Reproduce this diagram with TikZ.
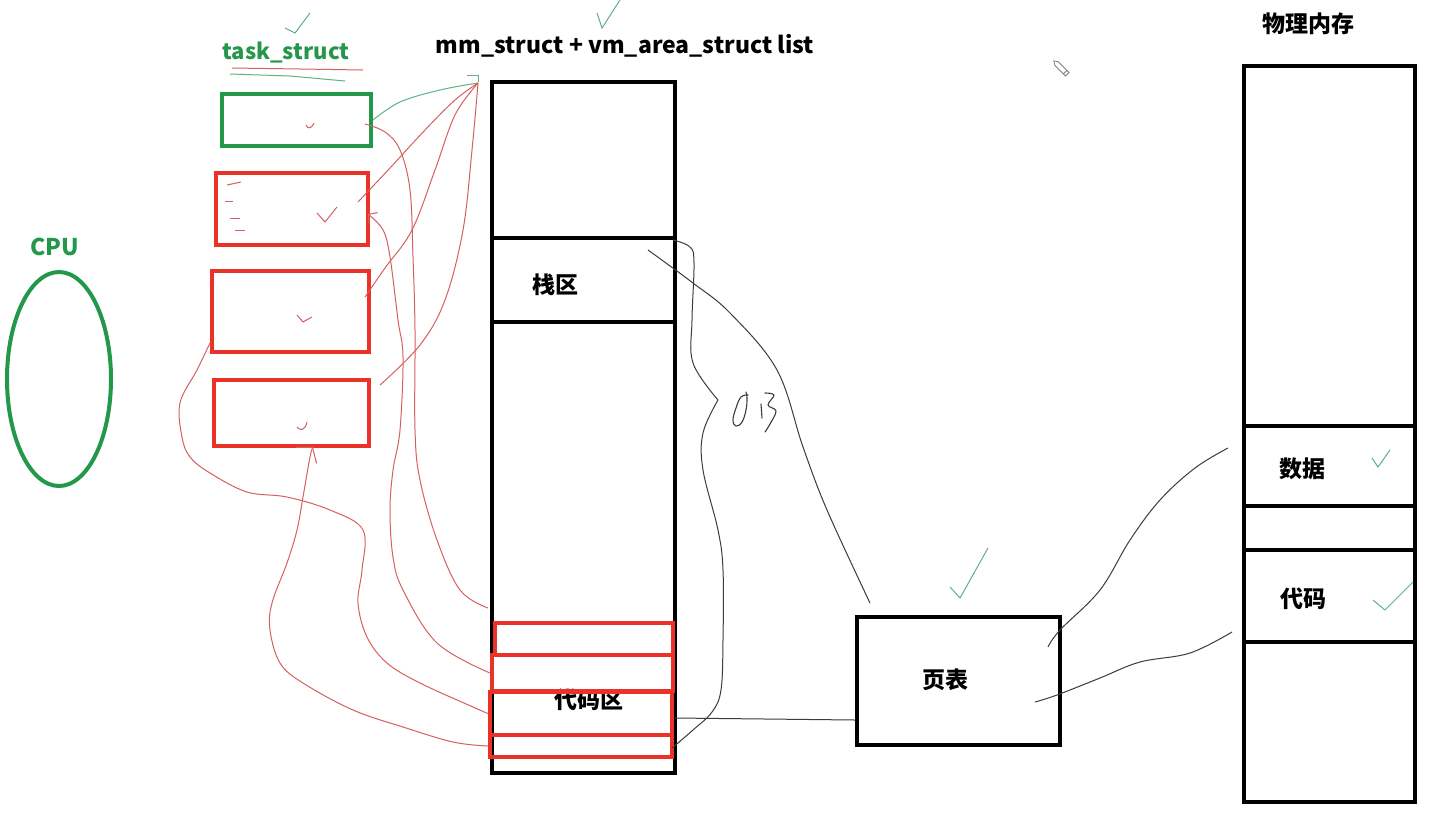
\documentclass[tikz,border=0pt]{standalone}
\usepackage{fontspec}
\setmainfont{Noto Sans CJK SC}
\usetikzlibrary{shapes.geometric,arrows.meta}
\definecolor{hgreen}{RGB}{36,152,74}
\definecolor{hred}{RGB}{234,50,40}
\definecolor{tred}{RGB}{214,96,96}
\definecolor{tgreen}{RGB}{96,176,136}
\definecolor{tblack}{RGB}{60,60,60}
\begin{document}
\begin{tikzpicture}[x=1pt,y=-1pt,
  bbox/.style={draw=black, line width=4pt, inner sep=0pt, anchor=north west},
  rbox/.style={draw=hred, line width=4pt, inner sep=0pt, anchor=north west},
  gbox/.style={draw=hgreen, line width=4pt, inner sep=0pt, anchor=north west},
  lat/.style={font=\fontsize{23}{25}\selectfont\bfseries, inner sep=0pt},
  cjk/.style={font=\fontsize{23}{25}\selectfont\bfseries, inner sep=0pt},
  rline/.style={draw=tred, line width=1pt},
  gline/.style={draw=tgreen, line width=1pt},
  kline/.style={draw=tblack, line width=1pt},
  hand/.style={draw=tblack, line width=1.1pt, line cap=round, line join=round},
  barb/.style={-{Straight Barb[length=10pt,width=26pt]}}
]
\useasboundingbox (0,0) rectangle (1430,823);
\fill[white] (0,0) rectangle (1430,823);

% ---- CPU
\node[lat, text=hgreen] (cpul) at (55,247) {CPU};
\node[draw=hgreen, line width=4pt, ellipse, minimum width=104pt, minimum height=214pt, inner sep=0pt] (cpu) at (59,379) {};

% ---- task_struct list
\node[lat, font=\fontsize{22}{24}\selectfont\bfseries, text=hgreen] (tsl) at (286,52) {task\_struct};
\node[gbox, minimum width=149pt, minimum height=52pt] (t0) at (220,92) {};
\node[rbox, minimum width=152pt, minimum height=72pt] (t1) at (214,171) {};
\node[rbox, minimum width=157pt, minimum height=81pt] (t2) at (210,269) {};
\node[rbox, minimum width=155pt, minimum height=66pt] (t3) at (212,378) {};

% ---- mm_struct column
\node[lat] (mml) at (625,46) {mm\_struct + vm\_area\_struct list};
\node[bbox, minimum width=183pt, minimum height=691pt] (mm) at (490,80) {};
\node[bbox, minimum width=183pt, minimum height=84pt] (stack) at (490,236) {};
\node[cjk] (stackl) at (555,285) {栈区};
\node[cjk] (codel) at (589,700) {代码区};
\node[rbox, minimum width=178pt, minimum height=32pt] (r1) at (493,621) {};
\node[rbox, minimum width=181pt, minimum height=36pt] (r2) at (490,653) {};
\node[rbox, minimum width=182pt, minimum height=43pt] (r3) at (488,690) {};
\node[rbox, minimum width=182pt, minimum height=22pt] (r4) at (488,733) {};

% ---- page table
\node[bbox, minimum width=203pt, minimum height=128pt] (pt) at (855,615) {};
\node[cjk] (ptl) at (945,680) {页表};

% ---- physical memory
\node[cjk] (pml) at (1308,24) {物理内存};
\node[bbox, minimum width=171pt, minimum height=736pt] (pm) at (1242,64) {};
\node[bbox, minimum width=171pt, minimum height=80pt] (data) at (1242,424) {};
\node[bbox, minimum width=171pt, minimum height=92pt] (code) at (1242,548) {};
\node[cjk] (datal) at (1302,469) {数据};
\node[cjk] (codel2) at (1303,599) {代码};

% ---- handwritten annotation marks
\coordinate (mmo) at (478,83);
\draw[gline] (467,75) -- (478,75) -- (478,82);
\draw[rline] (232,68) -- (300,69) -- (363,70);
\draw[gline] (230,74) -- (290,76) -- (345,81);
% checks
\draw[gline] (285,28) -- (295,33) -- (310,13);
\draw[gline] (597,13) -- (602,28) -- (620,0);
\draw[gline] (950,587) -- (960,598) -- (988,548);
\draw[gline] (1372,458) -- (1378,467) -- (1390,450);
\draw[gline] (1373,600) -- (1385,610) -- (1413,582);
\draw[rline] (317,213) -- (325,222) -- (337,207);
% small ticks in boxes
\draw[rline] (306,125) .. controls (308,130) and (312,128) .. (314,123);
\draw[rline] (297,315) -- (303,322) -- (312,317);
\draw[rline] (297,427) .. controls (300,431) and (305,431) .. (307,422);
% dashes in t1
\draw[rline] (227,185) -- (241,182);
\draw[rline] (225,201) -- (233,201);
\draw[rline] (230,218) -- (240,218);
\draw[rline] (235,230) -- (245,230);

% ---- connectors task_struct -> mm_struct
\draw[gline] plot[smooth, tension=0.6] coordinates {(t0.east) (400,102) (440,90) (mmo)};
\draw[rline] plot[smooth, tension=0.6] coordinates {(358,202) (390,168) (425,130) (455,100) (mmo)};
\draw[rline] plot[smooth, tension=0.6] coordinates {(365,297) (385,268) (412,230) (435,170) (455,115) (mmo)};
\draw[rline] plot[smooth, tension=0.6] coordinates {(380,385) (420,345) (445,300) (463,230) (472,150) (mmo)};

% ---- connectors vm areas -> task_struct
\draw[rline] plot[smooth, tension=0.6] coordinates {(365,124) (385,132) (400,150) (410,190) (413,257) (415,330) (415,430) (420,480) (437,540) (460,590) (488,608)};
\draw[rline, -{Straight Barb[length=6pt,width=14pt]}] plot[smooth, tension=0.6] coordinates {(r2.west) (437,643) (403,590) (393,557) (390,510) (393,470) (400,430) (403,357) (398,320) (390,257) (383,230) (368,214)};
\draw[rline] plot[smooth, tension=0.6] coordinates {(r3.west) (473,707) (420,683) (387,663) (367,637) (358,603) (362,570) (363,530) (330,510) (287,497) (247,492) (210,473) (190,457) (182,437) (180,403) (197,370) (210,343)};
\draw[rline, barb] plot[smooth, tension=0.6] coordinates {(r4.west) (453,742) (403,727) (353,710) (303,683) (280,663) (270,630) (272,603) (287,563) (297,530) (303,497) (310,457) (313,447)};

% ---- black thin lines
\draw[kline] plot[smooth, tension=0.6] coordinates {(648,250) (693,283) (730,313) (777,370) (803,447) (827,510) (870,603)};
\draw[kline] plot[smooth, tension=0.6] coordinates {(673,240) (690,247) (694,263) (692,320) (693,363) (718,400)};
\draw[kline] plot[smooth, tension=0.6] coordinates {(718,400) (703,433) (703,470) (718,530) (723,570) (723,640) (721,690) (712,712) (693,730) (672,748)};
\draw[kline] (675,718) -- (pt.west |- 0,720);
\draw[kline] plot[smooth, tension=0.6] coordinates {(1048,647) (1060,630) (1100,590) (1130,540) (1160,500) (1195,468) (1228,448)};
\draw[kline] plot[smooth, tension=0.6] coordinates {(1035,702) (1057,695) (1100,678) (1140,662) (1190,653) (1232,632)};
% handwritten "0,3"
\draw[hand] plot[smooth, tension=0.7] coordinates {(748,395) (741,397) (736,408) (733,420) (736,426) (742,422) (746,410) (747,398) (746,392)};
\draw[hand] (761,404) -- (762,418);
\draw[hand] plot[smooth, tension=0.6] coordinates {(765,393) (774,395) (768,405) (776,411) (770,424) (765,432)};

% ---- pencil cursor
\begin{scope}[shift={(1063,70)}, rotate=-45]
  \draw[gray, line width=0.8pt] (-9,-2.5) -- (6,-2.5) -- (6,2.5) -- (-9,2.5) -- (-13,0) -- cycle;
  \draw[gray, line width=0.8pt] (3,-2.5) -- (3,2.5);
\end{scope}
\end{tikzpicture}
\end{document}
